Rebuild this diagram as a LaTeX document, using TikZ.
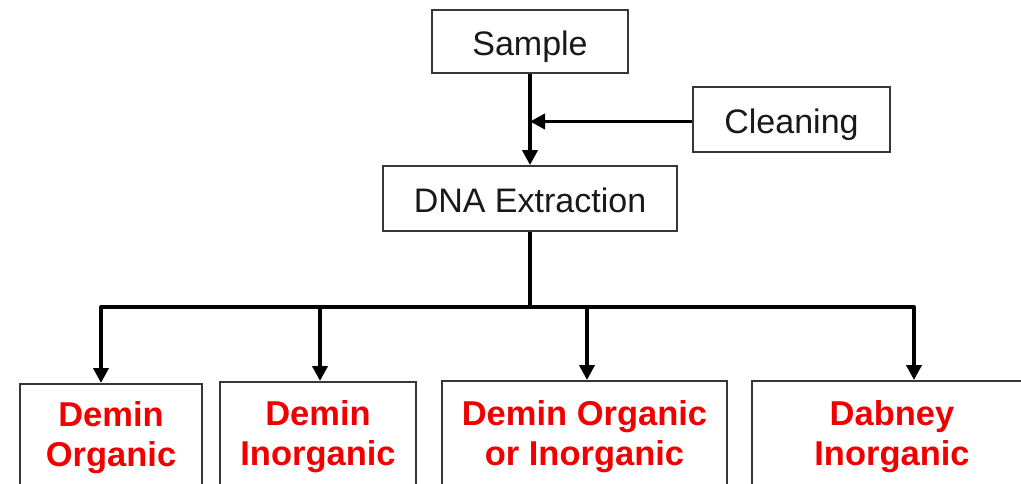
\documentclass[tikz,border=0pt]{standalone}
\usepackage{fontspec}
\setmainfont{Liberation Sans}
\usetikzlibrary{arrows.meta}
\definecolor{boxline}{RGB}{55,55,55}
\definecolor{txt}{RGB}{25,25,25}
\definecolor{redtxt}{RGB}{240,0,0}
\tikzset{
  topbox/.style={draw=boxline, line width=1.8pt, fill=white, inner sep=0pt, text=txt,
    text height=29pt, text depth=0pt, font=\fontsize{34}{40}\selectfont},
  botbox/.style={draw=boxline, line width=1.8pt, fill=white, inner sep=0pt, anchor=north},
  bottxt/.style={anchor=north, inner sep=0pt, align=center, text=redtxt,
    font=\fontsize{34.5}{40}\selectfont\bfseries},
  conn/.style={line width=3.8pt, draw=black},
  arr/.style={conn, -{Triangle[width=15pt,length=15pt]}}
}
\begin{document}
\begin{tikzpicture}[x=1pt,y=1pt]
\clip (0,0) rectangle (1021,483);
\fill[white] (0,0) rectangle (1021,483);
% top boxes
\node[topbox, minimum width=196pt, minimum height=63pt] (sample) at (530,441.5) {Sample};
\node[topbox, minimum width=197pt, minimum height=65pt] (clean) at (791.5,363.5) {Cleaning};
\node[topbox, minimum width=294pt, minimum height=65pt] (dna) at (530,284.5) {DNA Extraction};
% bottom boxes
\node[botbox, minimum width=182pt, minimum height=160pt] (b1) at (111,100) {};
\node[botbox, minimum width=196pt, minimum height=160pt] (b2) at (318,102) {};
\node[botbox, minimum width=285pt, minimum height=160pt] (b3) at (584.5,103) {};
\node[botbox, minimum width=280pt, minimum height=160pt] (b4) at (892,103) {};
\node[bottxt] (t1) at ([yshift=-18pt]b1.north) {Demin\\Organic};
\node[bottxt] (t2) at ([yshift=-19pt]b2.north) {Demin\\Inorganic};
\node[bottxt] (t3) at ([yshift=-20pt]b3.north) {Demin Organic\\or Inorganic};
\node[bottxt] (t4) at ([yshift=-20pt]b4.north) {Dabney\\Inorganic};
% connectors
\coordinate (cj) at ([yshift=-2pt]clean.west);
\draw[arr] (sample.south) -- (dna.north);
\draw[arr] (cj) -- (cj -| sample.south);
\coordinate (busL) at (101,176);
\coordinate (busR) at (914,176);
\coordinate (d2) at (320,176);
\coordinate (d3) at (587,176);
\draw[conn] (dna.south) -- (dna.south |- busL);
\draw[conn, line cap=round] (busL) -- (busR);
\draw[arr] (busL) -- (busL |- b1.north);
\draw[arr] (d2) -- (d2 |- b2.north);
\draw[arr] (d3) -- (d3 |- b3.north);
\draw[arr] (busR) -- (busR |- b4.north);
\end{tikzpicture}
\end{document}
